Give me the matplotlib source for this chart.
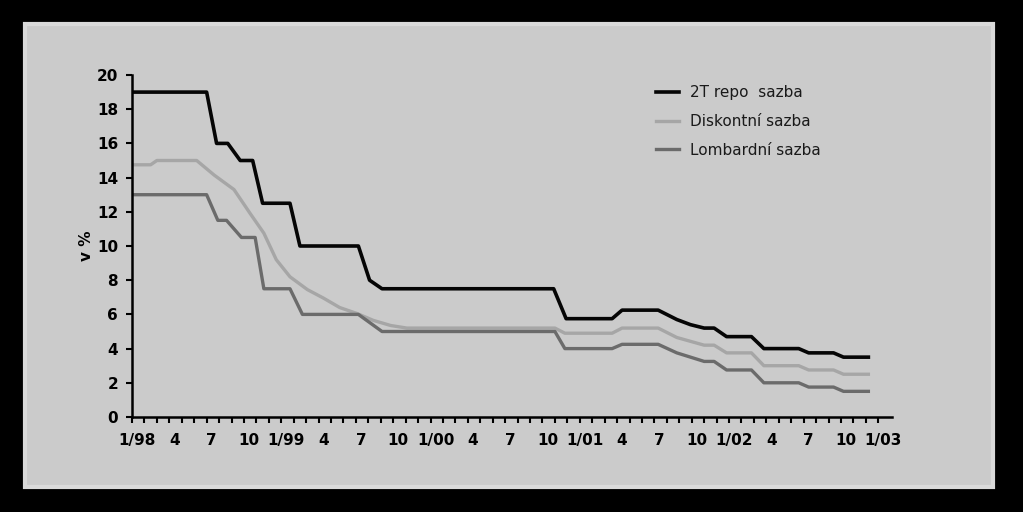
import matplotlib
matplotlib.use("Agg")
import matplotlib.pyplot as plt
from matplotlib.patches import Rectangle

# months counted from 1/98 (0 = start of January 1998)
repo_m = [0.2, 6.0, 6.8, 7.7, 8.7, 9.7, 10.5, 12.7, 13.5, 18.2, 19.1, 20.1, 33.9, 34.9,
          38.6, 39.4, 42.3, 43.8, 44.9, 46.0, 46.8, 47.8, 49.8, 50.8, 53.6, 54.4, 56.4, 57.2, 59.2]
repo_v = [19, 19, 16, 16, 15, 15, 12.5, 12.5, 10, 10, 8, 7.5, 7.5, 5.75,
          5.75, 6.25, 6.25, 5.7, 5.4, 5.2, 5.2, 4.7, 4.7, 4.0, 4.0, 3.75, 3.75, 3.5, 3.5]

disk_m = [0.2, 1.5, 2.0, 5.2, 6.6, 8.2, 9.5, 10.6, 11.6, 12.7, 14.1, 15.4, 16.7, 18.1,
          19.4, 20.8, 22.1, 34.0, 34.8, 38.6, 39.4, 42.3, 43.8, 46.0, 46.8, 47.8, 49.8,
          50.8, 53.6, 54.4, 56.4, 57.2, 59.2]
disk_v = [14.75, 14.75, 15, 15, 14.15, 13.3, 11.9, 10.75, 9.2, 8.2, 7.45, 6.95, 6.4, 6.05,
          5.65, 5.35, 5.2, 5.2, 4.9, 4.9, 5.2, 5.2, 4.65, 4.2, 4.2, 3.75, 3.75,
          3.0, 3.0, 2.75, 2.75, 2.5, 2.5]

lomb_m = [0.2, 6.0, 6.9, 7.6, 8.8, 9.9, 10.6, 12.7, 13.7, 18.2, 20.1, 34.0, 34.8,
          38.6, 39.4, 42.3, 43.8, 46.0, 46.8, 47.8, 49.8, 50.8, 53.6, 54.4, 56.4, 57.2, 59.2]
lomb_v = [13, 13, 11.5, 11.5, 10.5, 10.5, 7.5, 7.5, 6, 6, 5, 5, 4,
          4, 4.25, 4.25, 3.75, 3.25, 3.25, 2.75, 2.75, 2.0, 2.0, 1.75, 1.75, 1.5, 1.5]

tick_labels = ["1/98", "4", "7", "10", "1/99", "4", "7", "10", "1/00", "4", "7", "10",
               "1/01", "4", "7", "10", "1/02", "4", "7", "10", "1/03"]
series_names = ["2T repo  sazba", "Diskontní sazba", "Lombardní sazba"]

plt.rcParams['font.family'] = ['Liberation Sans Narrow', 'DejaVu Sans']

W, H = 1023, 512
fig = plt.figure(figsize=(W / 100, H / 100), dpi=100, facecolor="black")

# gray panel behind the axes
panel = Rectangle((25 / W, 1 - 487 / H), 968 / W, 463 / H, transform=fig.transFigure,
                  facecolor="#cbcbcb", edgecolor="#dadada", linewidth=3, zorder=-10)
fig.add_artist(panel)

ax = fig.add_axes([132 / W, 1 - 417 / H, 760 / W, 342 / H])
ax.set_facecolor("none")

ax.plot(repo_m, repo_v, color="#050505", lw=2.6, label=series_names[0])
ax.plot(disk_m, disk_v, color="#a6a6a6", lw=2.4, label=series_names[1])
ax.plot(lomb_m, lomb_v, color="#6b6b6b", lw=2.4, label=series_names[2])

ax.set_xlim(0, 61.1)
ax.set_ylim(0, 20)

for s in ["top", "right"]:
    ax.spines[s].set_visible(False)
for s in ["left", "bottom"]:
    ax.spines[s].set_linewidth(1.8)
    ax.spines[s].set_color("black")

ax.set_yticks(range(0, 21, 2))
ax.tick_params(axis="y", length=4, width=1.5, labelsize=11, pad=6)
for lab in ax.get_yticklabels():
    lab.set_fontweight("bold")

ax.set_xticks(range(0, 61), minor=True)
ax.set_xticks([])
ax.tick_params(axis="x", which="minor", length=4, width=1.5)
for i, lab in enumerate(tick_labels):
    ax.text(i * 3 + 0.4, -0.95, lab, ha="center", va="top", fontsize=11, fontweight="bold")

ax.set_ylabel("v %", fontsize=11, fontweight="bold", labelpad=2)

leg = ax.legend(loc="upper left", bbox_to_anchor=(0.672, 1.01), frameon=False,
                fontsize=11, handlelength=1.5, handletextpad=0.7, labelspacing=0.9)
for t in leg.get_texts():
    t.set_color("#1a1a1a")

fig.savefig("out.png", dpi=100, facecolor="black")
